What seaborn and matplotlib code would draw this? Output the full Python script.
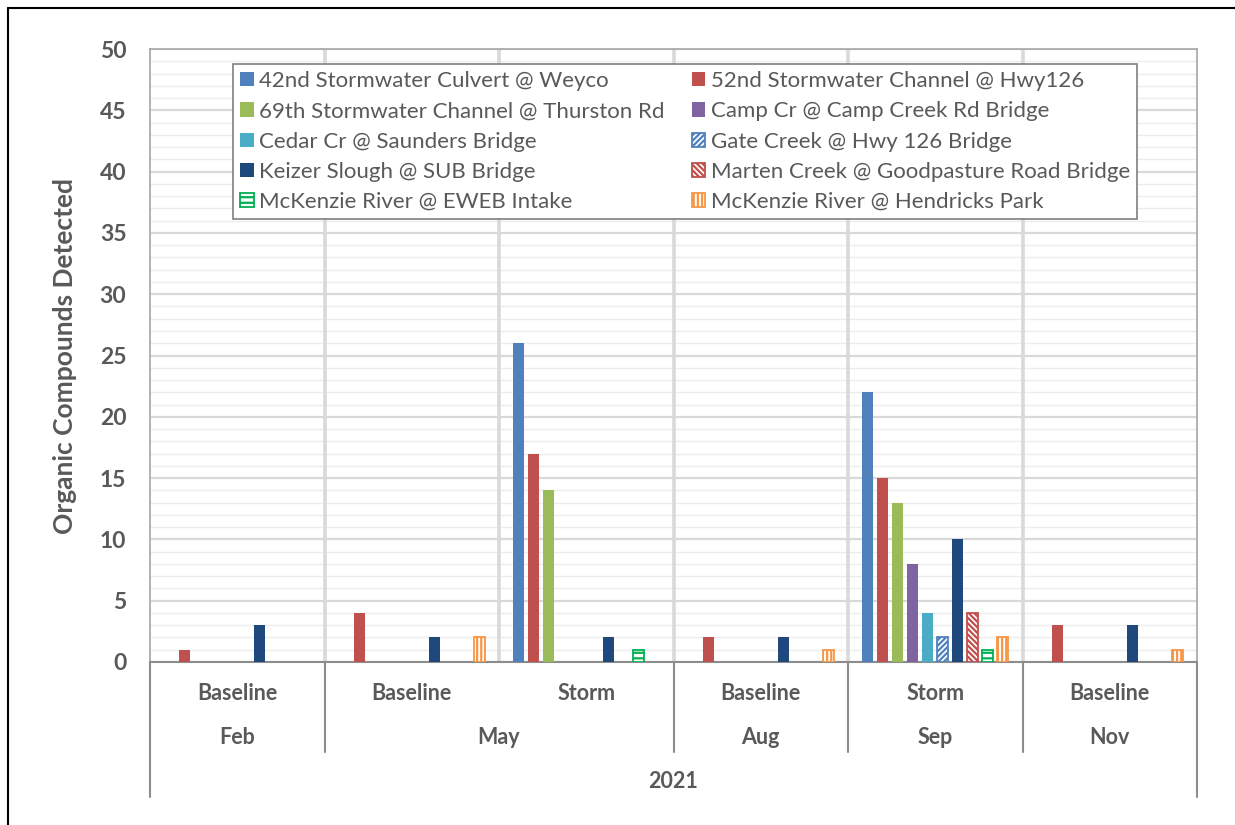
import numpy as np
import pandas as pd
import matplotlib
matplotlib.use('Agg')
import matplotlib.pyplot as plt
from matplotlib.lines import Line2D
import seaborn as sns

# ---------------------------------------------------------------------------
# Data
# ---------------------------------------------------------------------------
sites = [
    '42nd Stormwater Culvert @ Weyco',
    '52nd Stormwater Channel @ Hwy126',
    '69th Stormwater Channel @ Thurston Rd',
    'Camp Cr @ Camp Creek Rd Bridge',
    'Cedar Cr @ Saunders Bridge',
    'Gate Creek @ Hwy 126 Bridge',
    'Keizer Slough @ SUB Bridge',
    'Marten Creek @ Goodpasture Road Bridge',
    'McKenzie River @ EWEB Intake',
    'McKenzie River @ Hendricks Park',
]
site_colors = ['#4F81BD', '#C0504D', '#9BBB59', '#8064A2', '#4BACC6',
               '#4F81BD', '#1F497D', '#C0504D', '#00B050', '#F79646']
site_hatch = [None, None, None, None, None, '//////', None, '\\\\\\\\\\\\', '---', '||||']

sample_type = ['Baseline', 'Baseline', 'Storm', 'Baseline', 'Storm', 'Baseline']
sample_month = ['Feb', 'May', 'May', 'Aug', 'Sep', 'Nov']
year_label = '2021'

# one row per sampling event, one column per site
feb_base = [0, 1, 0, 0, 0, 0, 3, 0, 0, 0]
may_base = [0, 4, 0, 0, 0, 0, 2, 0, 0, 2]
may_storm = [26, 17, 14, 0, 0, 0, 2, 0, 1, 0]
aug_base = [0, 2, 0, 0, 0, 0, 2, 0, 0, 1]
sep_storm = [22, 15, 13, 8, 4, 2, 10, 4, 1, 2]
nov_base = [0, 3, 0, 0, 0, 0, 3, 0, 0, 1]
events = [feb_base, may_base, may_storm, aug_base, sep_storm, nov_base]

group_ids = [f'{m} {t}' for m, t in zip(sample_month, sample_type)]
rows = []
for gid, vals in zip(group_ids, events):
    for site, v in zip(sites, vals):
        # Excel draws nothing for zero counts
        rows.append({'event': gid, 'site': site, 'count': v if v > 0 else np.nan})
df = pd.DataFrame(rows)

# ---------------------------------------------------------------------------
# Plot
# ---------------------------------------------------------------------------
sns.set_theme(style='white')
plt.rcParams['font.family'] = ['Lato', 'DejaVu Sans']
plt.rcParams['hatch.linewidth'] = 1.6
text_grey = '#595959'
axis_grey = '#8C8C8C'

W, H = 1235, 825
fig = plt.figure(figsize=(W / 100, H / 100), dpi=100)
ax = fig.add_axes([150 / W, 1 - 662 / H, (1197 - 150) / W, (662 - 49) / H])

sns.barplot(data=df, x='event', y='count', hue='site', order=group_ids,
            hue_order=sites, palette=dict(zip(sites, site_colors)),
            width=0.86, gap=0.27, errorbar=None, legend=False,
            linewidth=0, saturation=1, ax=ax, zorder=3)

for cont, col, hatch in zip(ax.containers, site_colors, site_hatch):
    if hatch is None:
        continue
    for p in cont.patches:
        p.set_facecolor('white')
        p.set_edgecolor(col)
        p.set_linewidth(1.3)
        p.set_hatch(hatch)

# axes cosmetics
ax.set_ylim(0, 50)
ax.set_xlim(-0.5, len(group_ids) - 0.5)
ax.set_yticks(np.arange(0, 51, 5))
ax.set_yticks(np.arange(0, 51, 1), minor=True)
ax.grid(axis='y', which='major', color='#D9D9D9', lw=1.6, zorder=0)
ax.grid(axis='y', which='minor', color='#EDEDED', lw=1.0, zorder=0)
ax.set_axisbelow(True)
for i in range(1, len(group_ids)):
    ax.axvline(i - 0.5, color='#D9D9D9', lw=2.6, zorder=1)

for side in ['left', 'right', 'top']:
    ax.spines[side].set_color('#A6A6A6')
    ax.spines[side].set_linewidth(1.2)
ax.spines['bottom'].set_color(axis_grey)
ax.spines['bottom'].set_linewidth(1.5)

ax.tick_params(axis='y', which='both', length=0, pad=17, labelsize=16.5,
               labelcolor=text_grey)
for lab in ax.get_yticklabels():
    lab.set_fontweight('bold')
ax.set_ylabel('Organic Compounds Detected', fontsize=19, fontweight='bold',
              color=text_grey, labelpad=16)
ax.set_xlabel('')

# multi level category axis
ax.set_xticks(range(len(group_ids)))
ax.set_xticklabels(sample_type, fontsize=15.5, fontweight='bold', color=text_grey)
ax.tick_params(axis='x', length=0, pad=15)

trans = ax.get_xaxis_transform()
ax_h = 662 - 49
row2_y = -(738 - 662) / ax_h
row3_y = -(781 - 662) / ax_h
sep_bottom = -(752 - 662) / ax_h
outer_bottom = -(797 - 662) / ax_h

month_pos = {}
for i, m in enumerate(sample_month):
    month_pos.setdefault(m, []).append(i)
for m, idx in month_pos.items():
    ax.text(np.mean(idx), row2_y, m, transform=trans, ha='center', va='center',
            fontsize=15.5, fontweight='bold', color=text_grey)
    # separator after the last event of each month
    if idx[-1] < len(group_ids) - 1:
        ax.plot([idx[-1] + 0.5] * 2, [0, sep_bottom], transform=trans,
                color=axis_grey, lw=1.5, clip_on=False)
for xe in [-0.5, len(group_ids) - 0.5]:
    ax.plot([xe, xe], [0, outer_bottom], transform=trans, color=axis_grey,
            lw=1.5, clip_on=False)
ax.text((len(group_ids) - 1) / 2, row3_y, year_label, transform=trans,
        ha='center', va='center', fontsize=15.5, fontweight='bold', color=text_grey)

# legend, filled row by row like Excel
order = [0, 2, 4, 6, 8, 1, 3, 5, 7, 9]
handles = [ax.containers[i] for i in order]
labels = [sites[i] for i in order]
leg = ax.legend(handles, labels, ncol=2, loc='upper left',
                bbox_to_anchor=((233 - 150) / 1047, (662 - 64) / ax_h),
                borderaxespad=0, fancybox=False, framealpha=1, fontsize=16,
                handlelength=0.62, handleheight=0.62, handletextpad=0.25,
                columnspacing=1.2, labelspacing=0.46, borderpad=0.32)
leg.get_frame().set_edgecolor('#7F7F7F')
leg.get_frame().set_linewidth(1.2)
for t in leg.get_texts():
    t.set_color(text_grey)
leg.set_zorder(5)

# black frame of the original screenshot (left and top edges)
fig.add_artist(Line2D([8 / W, 8 / W], [0, 1 - 8 / H], color='black', lw=1.5))
fig.add_artist(Line2D([8 / W, 1], [1 - 8 / H, 1 - 8 / H], color='black', lw=1.5))

fig.savefig('out.png', dpi=100)
